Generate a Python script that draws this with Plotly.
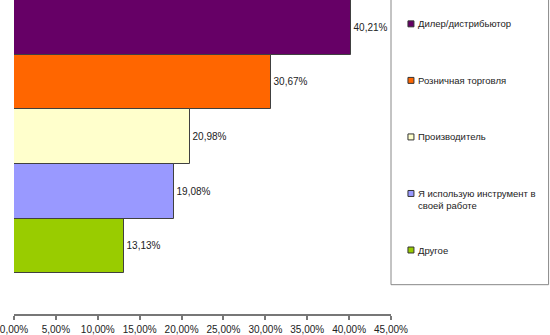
import plotly.graph_objects as go

categories = ["Дилер/дистрибьютор", "Розничная торговля", "Производитель",
              "Я использую инструмент в<br>своей работе", "Другое"]
values = [40.21, 30.67, 20.98, 19.08, 13.13]
colors = ["#660066", "#FF6600", "#FFFFCC", "#9999FF", "#99CC00"]
tick_vals = [0, 5, 10, 15, 20, 25, 30, 35, 40, 45]
tick_text = ["0,00%", "5,00%", "10,00%", "15,00%", "20,00%", "25,00%",
             "30,00%", "35,00%", "40,00%", "45,00%"]

W, H = 550, 335
ML, MR, MT, MB = 13, 159, 0, 19
PW, PH = W - ML - MR, H - MT - MB

def px_x(p):
    return (p - ML) / PW

def px_y(p):
    return (H - MB - p) / PH

FONT = "Liberation Sans, Arial, sans-serif"

fig = go.Figure()
fig.add_trace(go.Bar(
    y=list(range(len(categories))),
    x=values,
    orientation="h",
    width=1.0,
    marker=dict(color=colors, line=dict(color="#404040", width=1)),
    texttemplate="%{x:.2f}%",
    textposition="outside",
    textfont=dict(family=FONT, size=10, color="#222222"),
    cliponaxis=False,
    showlegend=False,
    hoverinfo="skip",
))

shapes = [dict(type="rect", xref="paper", yref="paper",
               x0=px_x(391), x1=px_x(549), y0=px_y(286.5), y1=px_y(-2),
               line=dict(color="#888888", width=1), fillcolor="rgba(0,0,0,0)")]
annotations = []
for i, (name, col) in enumerate(zip(categories, colors)):
    yc = 24 + 56.9 * i
    shapes.append(dict(type="rect", xref="paper", yref="paper",
                       x0=px_x(408), x1=px_x(414), y0=px_y(yc + 3), y1=px_y(yc - 3),
                       line=dict(color="#333333", width=1), fillcolor=col))
    annotations.append(dict(xref="paper", yref="paper", x=px_x(416), y=px_y(yc - 7.5),
                            xanchor="left", yanchor="top", text=name, showarrow=False,
                            align="left",
                            font=dict(family=FONT, size=9.5, color="#222222")))

fig.update_layout(
    width=W, height=H,
    margin=dict(l=ML, r=MR, t=MT, b=MB),
    paper_bgcolor="white", plot_bgcolor="white",
    separators=", ",
    bargap=0,
    shapes=shapes,
    annotations=annotations,
    xaxis=dict(range=[0, 45], tickvals=tick_vals, ticktext=tick_text,
               showgrid=False, zeroline=False, showline=True,
               linecolor="#777777", linewidth=1.5,
               ticks="outside", ticklen=4, tickcolor="#777777", tickwidth=1.5,
               ticklabeloverflow="allow", ticklabelstandoff=1,
               tickfont=dict(family=FONT, size=10, color="#222222")),
    yaxis=dict(range=[5.245, -0.5], showgrid=False, zeroline=False,
               showline=False, showticklabels=False, ticks=""),
)

fig.write_html("out.html")
